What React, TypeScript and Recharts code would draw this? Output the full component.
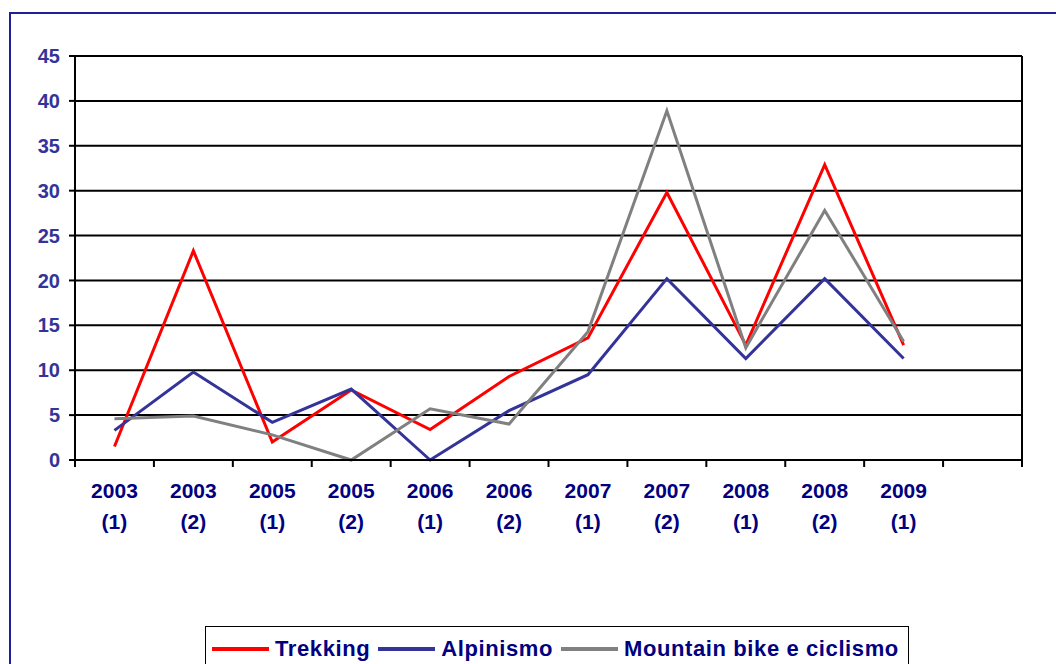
import { LineChart, Line, XAxis, YAxis, CartesianGrid, ReferenceLine } from "recharts";

const years = ["2003", "2003", "2005", "2005", "2006", "2006", "2007", "2007", "2008", "2008", "2009"];
const halves = ["(1)", "(2)", "(1)", "(2)", "(1)", "(2)", "(1)", "(2)", "(1)", "(2)", "(1)"];

const trekking = [1.5, 23.3, 2.0, 7.8, 3.4, 9.3, 13.6, 29.8, 12.8, 32.9, 12.8];
const alpinismo = [3.3, 9.8, 4.2, 7.9, 0, 5.5, 9.5, 20.2, 11.3, 20.2, 11.3];
const mtb = [4.6, 4.9, 2.8, 0, 5.7, 4.0, 14.3, 38.9, 12.5, 27.8, 13.2];

const yTicks = [0, 5, 10, 15, 20, 25, 30, 35, 40, 45];
const slotTicks = [0, 1, 2, 3, 4, 5, 6, 7, 8, 9, 10, 11, 12];

const W = 1056;
const H = 664;
const PLOT_LEFT = 75;
const PLOT_RIGHT = 1022;
const SLOT = (PLOT_RIGHT - PLOT_LEFT) / 12;

const FONT = '"Liberation Sans", Arial, sans-serif';

const data = years.map((_, i) => ({
  x: i + 0.5,
  trekking: trekking[i],
  alpinismo: alpinismo[i],
  mtb: mtb[i],
}));

function SlotTick({ x, y, payload }: { x?: number; y?: number; payload?: { value: number } }) {
  const i = payload ? payload.value : 0;
  if (i >= years.length) return null;
  const cx = (x || 0) + SLOT / 2;
  return (
    <text
      x={cx}
      y={y}
      textAnchor="middle"
      fill="#000080"
      fontFamily={FONT}
      fontWeight="bold"
      fontSize={21}
    >
      <tspan x={cx} dy={29}>{years[i]}</tspan>
      <tspan x={cx} dy={31}>{halves[i]}</tspan>
    </text>
  );
}

const legendItems = [
  { label: "Trekking", color: "#ff0000" },
  { label: "Alpinismo", color: "#333399" },
  { label: "Mountain bike e ciclismo", color: "#808080" },
];

export default function App() {
  return (
    <div
      style={{
        position: "absolute",
        left: 0,
        top: 0,
        width: W,
        height: H,
        overflow: "hidden",
        background: "#fff",
        fontFamily: FONT,
      }}
    >
      <div
        style={{
          position: "absolute",
          left: 9,
          top: 12,
          width: 1200,
          height: 800,
          border: "2px solid #1f1f9a",
        }}
      />
      <div style={{ position: "absolute", left: 0, top: 0 }}>
        <LineChart
          width={W}
          height={H}
          data={data}
          margin={{ top: 56, right: W - PLOT_RIGHT, bottom: 0, left: 0 }}
        >
          <CartesianGrid vertical={false} stroke="#000" strokeWidth={2} />
          <XAxis
            type="number"
            dataKey="x"
            domain={[0, 12]}
            ticks={slotTicks}
            interval={0}
            height={204}
            axisLine={{ stroke: "#000", strokeWidth: 2 }}
            tickLine={{ stroke: "#000", strokeWidth: 2 }}
            tickSize={7}
            tick={<SlotTick />}
          />
          <YAxis
            domain={[0, 45]}
            ticks={yTicks}
            interval={0}
            width={PLOT_LEFT}
            axisLine={{ stroke: "#000", strokeWidth: 2 }}
            tickLine={{ stroke: "#000", strokeWidth: 2 }}
            tickSize={6}
            tickMargin={9}
            tick={{ fill: "#333399", fontSize: 20, fontWeight: "bold", fontFamily: FONT }}
          />
          <ReferenceLine x={12} stroke="#000" strokeWidth={2} />
          <Line
            type="linear"
            dataKey="trekking"
            stroke="#ff0000"
            strokeWidth={3}
            dot={false}
            isAnimationActive={false}
          />
          <Line
            type="linear"
            dataKey="alpinismo"
            stroke="#333399"
            strokeWidth={3}
            dot={false}
            isAnimationActive={false}
          />
          <Line
            type="linear"
            dataKey="mtb"
            stroke="#808080"
            strokeWidth={3}
            dot={false}
            isAnimationActive={false}
          />
        </LineChart>
      </div>
      <div
        style={{
          position: "absolute",
          left: 205,
          top: 626,
          width: 704,
          height: 60,
          border: "1px solid #000",
          boxSizing: "border-box",
        }}
      >
        <div style={{ display: "flex", alignItems: "center", height: 44, paddingLeft: 6 }}>
          {legendItems.map((it) => (
            <div key={it.label} style={{ display: "flex", alignItems: "center", marginRight: 8 }}>
              <div style={{ width: 57, height: 4, background: it.color, marginRight: 6 }} />
              <span
                style={{
                  color: "#000080",
                  fontWeight: "bold",
                  fontSize: 22,
                  letterSpacing: 0.6,
                  whiteSpace: "nowrap",
                }}
              >
                {it.label}
              </span>
            </div>
          ))}
        </div>
      </div>
    </div>
  );
}
